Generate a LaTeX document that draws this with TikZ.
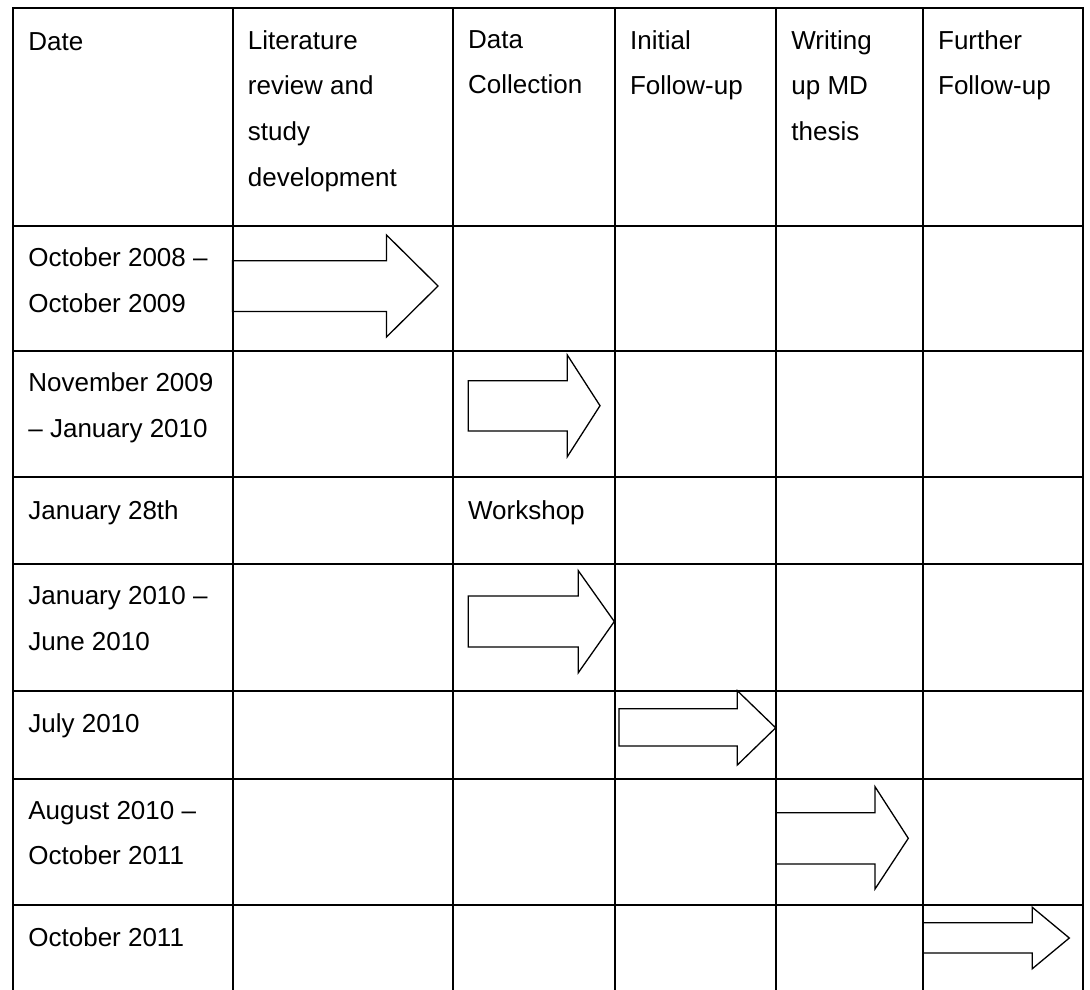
\documentclass[tikz,border=0pt]{standalone}
\usepackage{fontspec}
\setmainfont{Liberation Sans}
\tikzset{
    cell/.style={anchor=north west,inner sep=0pt,align=left,font=\fontsize{13}{22.85}\selectfont,execute at begin node={\rule{0pt}{10pt}}},
    rule/.style={line width=1pt,line cap=rect},
    blockarrow/.style={line width=0.65pt,line join=miter}
}
\begin{document}
\begin{tikzpicture}[x=0.5pt,y=0.5pt,yscale=-1]
    \useasboundingbox (0,0) rectangle (1090,989);
    %Table: horizontal rules
    \draw [rule] (13,8) -- (1083,8);
    \draw [rule] (13,225.7) -- (1083,225.7);
    \draw [rule] (13,350.7) -- (1083,350.7);
    \draw [rule] (13,476.7) -- (1083,476.7);
    \draw [rule] (13,564.3) -- (1083,564.3);
    \draw [rule] (13,690.5) -- (1083,690.5);
    \draw [rule] (13,778.7) -- (1083,778.7);
    \draw [rule] (13,904.5) -- (1083,904.5);
    %Table: vertical rules
    \draw [rule] (13,8) -- (13,992);
    \draw [rule] (232.5,8) -- (232.5,992);
    \draw [rule] (452.7,8) -- (452.7,992);
    \draw [rule] (614.7,8) -- (614.7,992);
    \draw [rule] (776,8) -- (776,992);
    \draw [rule] (922.7,8) -- (922.7,992);
    \draw [rule] (1083,8) -- (1083,992);

    %Shape: Right Arrow [literature]
    \draw [blockarrow] (232.5,260.7) -- (386.5,260.7) -- (386.5,235) -- (438,286) -- (386.5,337) -- (386.5,311.5) -- (232.5,311.5) -- cycle ;
    %Shape: Right Arrow [data collection 1]
    \draw [blockarrow] (468.3,380.7) -- (567.3,380.7) -- (567.3,355) -- (600,405.7) -- (567.3,456.7) -- (567.3,431) -- (468.3,431) -- cycle ;
    %Shape: Right Arrow [data collection 2]
    \draw [blockarrow] (468.3,596) -- (578.3,596) -- (578.3,570.7) -- (614.3,621.5) -- (578.3,672.7) -- (578.3,647) -- (468.3,647) -- cycle ;
    %Shape: Right Arrow [initial follow-up]
    \draw [blockarrow] (619,708.7) -- (737.3,708.7) -- (737.3,690.7) -- (775.7,727.8) -- (737.3,765) -- (737.3,746) -- (619,746) -- cycle ;
    %Shape: Right Arrow [writing up]
    \draw [blockarrow] (776,812.7) -- (875,812.7) -- (875,786.7) -- (908.3,838.3) -- (875,889) -- (875,864) -- (776,864) -- cycle ;
    %Shape: Right Arrow [further follow-up]
    \draw [blockarrow] (922.7,922.7) -- (1032.3,922.7) -- (1032.3,907.3) -- (1069.3,938) -- (1032.3,968.7) -- (1032.3,953) -- (922.7,953) -- cycle ;

    % Text Node
    \draw (28,30) node [cell] (hdate) {Date};
    % Text Node
    \draw (247.5,30) node [cell] (hlit) {Literature\\review and\\study\\development};
    % Text Node
    \draw (467.7,30) node [cell] (hdata) {Data\\Collection};
    % Text Node
    \draw (629.7,30) node [cell] (hinit) {Initial\\Follow-up};
    % Text Node
    \draw (791,30) node [cell] (hwrite) {Writing\\up MD\\thesis};
    % Text Node
    \draw (937.7,30) node [cell] (hfurther) {Further\\Follow-up};
    % Text Node
    \draw (28,247.7) node [cell] (date1) {October 2008 –\\October 2009};
    % Text Node
    \draw (28,372.7) node [cell] (date2) {November 2009\\– January 2010};
    % Text Node
    \draw (28,498.7) node [cell] (date3) {January 28th};
    % Text Node
    \draw (467.7,498.7) node [cell] (workshop) {Workshop};
    % Text Node
    \draw (28,586.3) node [cell] (date4) {January 2010 –\\June 2010};
    % Text Node
    \draw (28,712.5) node [cell] (date5) {July 2010};
    % Text Node
    \draw (28,800.7) node [cell] (date6) {August 2010 –\\October 2011};
    % Text Node
    \draw (28,926.5) node [cell] (date7) {October 2011};
\end{tikzpicture}
\end{document}
